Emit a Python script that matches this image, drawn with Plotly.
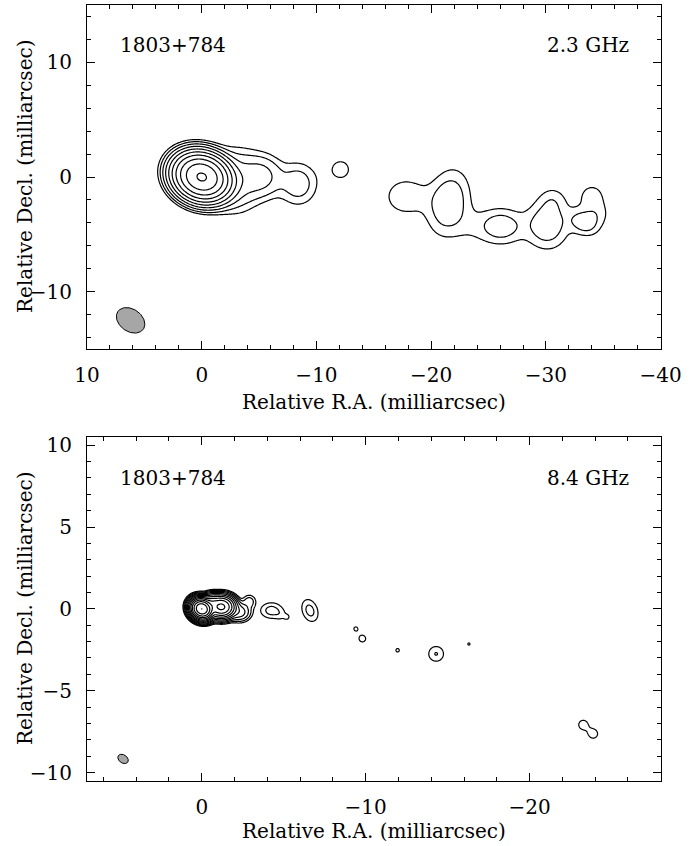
import numpy as np
import plotly.graph_objects as go

# ---------------------------------------------------------------
# 1803+784 VLBI images: Gaussian model components (mas) restored
# on a grid and contoured at levels doubling from the lowest one.
# Peak values are in units of the lowest contour level.
# ---------------------------------------------------------------

# 2.3 GHz components
s_ra   = [0.0, -3.0, -5.2, -8.4, -12.1, -17.8, -21.5, -23.3, -26.1, -30.1, -33.3, -30.6, -34.0, -34.5]
s_dec  = [0.0, -0.3, 0.05, -0.6, 0.65, -1.7, -2.2, -4.3, -4.3, -4.2, -4.0, -2.0, -1.7, -3.3]
s_peak = [550, 4.5, 5.0, 3.0, 1.25, 1.8, 3.4, 0.75, 3.0, 3.2, 2.8, 1.2, 1.4, 1.2]
s_maj  = [2.6, 3.8, 2.6, 2.8, 2.4, 3.2, 4.3, 3.0, 3.0, 3.2, 2.1, 2.0, 2.2, 1.8]
s_min  = [2.1, 3.0, 2.6, 2.5, 2.4, 2.75, 2.7, 3.0, 2.4, 2.9, 1.6, 2.0, 2.2, 1.8]
s_pa   = [70, 0, 90, 0, 0, 90, 168, 0, 90, 0, 60, 0, 0, 0]
s_levels = 10

# 8.4 GHz components
x_ra   = [0.0, -1.2, -0.6, -2.3, -2.9, -4.25, -4.85, -5.2, -6.6, -9.4, -9.8, -11.95, -14.3, -16.3, -23.27, -23.88]
x_dec  = [0.0, 0.12, 0.35, -0.2, 0.45, -0.1, -0.4, -0.5, -0.1, -1.22, -1.82, -2.53, -2.75, -2.15, -7.08, -7.63]
x_peak = [4096, 600, 150, 12, 3.0, 2.6, 0.8, 1.2, 2.5, 1.15, 1.4, 1.12, 2.05, 1.08, 1.5, 1.5]
x_maj  = [0.68, 0.85, 0.6, 0.85, 0.6, 1.1, 0.6, 0.3, 1.2, 0.5, 0.57, 0.5, 0.88, 0.4, 0.7, 0.7]
x_min  = [0.6, 0.7, 0.6, 0.7, 0.6, 0.8, 0.6, 0.3, 0.8, 0.5, 0.57, 0.5, 0.88, 0.4, 0.7, 0.7]
x_pa   = [60, 90, 0, 90, 0, 90, 0, 0, 20, 0, 0, 0, 0, 0, 0, 0]
x_levels = 13

# restoring beams: centre RA, Dec, FWHM major, minor (mas), position angle (deg)
beam_s = [6.2, -12.5, 2.7, 1.95, 55]
beam_x = [4.8, -9.17, 0.7, 0.5, 55]

# axis ranges
s_xrange, s_yrange = [10, -40], [-15, 15]
x_xrange, x_yrange = [7, -28], [-10.5, 10.5]

FONT = "DejaVu Serif"
W, H = 696, 846


def model_map(xs, ys, ra, dec, peak, maj, mnr, pa):
    X, Y = np.meshgrid(xs, ys)
    img = np.zeros_like(X)
    for r0, d0, p, a, b, t in zip(ra, dec, peak, maj, mnr, pa):
        th = np.radians(t)
        dx, dy = X - r0, Y - d0
        u = dx * np.sin(th) + dy * np.cos(th)
        v = dx * np.cos(th) - dy * np.sin(th)
        sa, sb = a / 2.3548, b / 2.3548
        img += p * np.exp(-0.5 * ((u / sa) ** 2 + (v / sb) ** 2))
    return img


def grid_axis(lo, hi, coarse, fine, centres, half):
    pts = set(np.round(np.arange(lo, hi + 1e-9, coarse), 4))
    for c in centres:
        pts.update(np.round(np.arange(c - half, c + half + 1e-9, fine), 4))
    return np.array(sorted(p for p in pts if lo <= p <= hi))


def contour_trace(xs, ys, img, nlev, width, xa, ya):
    z = np.log2(np.clip(img, 2.0 ** -3, None))
    z = np.round(z, 3)
    return go.Contour(
        x=xs, y=ys, z=z,
        contours=dict(start=0, end=nlev - 1, size=1, coloring="lines"),
        colorscale=[[0, "black"], [1, "black"]],
        line=dict(width=width, smoothing=1.0),
        showscale=False, hoverinfo="skip", xaxis=xa, yaxis=ya,
    )


def beam_trace(b, xa, ya):
    r0, d0, a, c, t = b
    th = np.radians(t)
    s = np.linspace(0, 2 * np.pi, 90)
    u, v = a / 2 * np.cos(s), c / 2 * np.sin(s)
    ra = r0 + u * np.sin(th) + v * np.cos(th)
    de = d0 + u * np.cos(th) - v * np.sin(th)
    return go.Scatter(x=ra, y=de, mode="lines", fill="toself",
                      fillcolor="#a6a6a6", line=dict(color="black", width=1),
                      hoverinfo="skip", showlegend=False, xaxis=xa, yaxis=ya)


# 2.3 GHz grid (uniform)
sx = np.round(np.arange(-40, 10.0001, 0.1), 3)
sy = np.round(np.arange(-15, 15.0001, 0.1), 3)
s_img = model_map(sx, sy, s_ra, s_dec, s_peak, s_maj, s_min, s_pa)

# 8.4 GHz grid (refined around components)
xx = grid_axis(-28, 7, 0.25, 0.025, x_ra, 1.2)
xy = grid_axis(-10.5, 10.5, 0.25, 0.025, x_dec, 1.2)
x_img = model_map(xx, xy, x_ra, x_dec, x_peak, x_maj, x_min, x_pa)

fig = go.Figure()
fig.add_trace(contour_trace(sx, sy, s_img, s_levels, 1.2, "x", "y"))
fig.add_trace(beam_trace(beam_s, "x", "y"))
fig.add_trace(contour_trace(xx, xy, x_img, x_levels, 1.2, "x2", "y2"))
fig.add_trace(beam_trace(beam_x, "x2", "y2"))

L, R = 87 / W, 660.7 / W
top_dom = [1 - 349 / H, 1 - 5 / H]
bot_dom = [1 - 780.7 / H, 1 - 437 / H]

axis_common = dict(
    showgrid=False, zeroline=False, showline=True, linecolor="black", linewidth=1,
    mirror="allticks", ticks="inside", ticklen=8, tickcolor="black", tickwidth=1,
    tickfont=dict(family=FONT, size=20, color="black"), automargin=False,
)
minor2 = dict(dtick=2, ticklen=4, ticks="inside", tickcolor="black")
minor1 = dict(dtick=1, ticklen=4, ticks="inside", tickcolor="black")

fig.update_layout(
    width=W, height=H, margin=dict(l=0, r=0, t=0, b=0),
    paper_bgcolor="white", plot_bgcolor="white", showlegend=False,
    xaxis=dict(domain=[L, R], range=s_xrange, anchor="y", tick0=0, dtick=10,
               minor=minor2, ticklabelstandoff=8, **axis_common),
    yaxis=dict(domain=top_dom, range=s_yrange, anchor="x", tick0=0, dtick=10,
               minor=minor2, ticklabelstandoff=10, **axis_common),
    xaxis2=dict(domain=[L, R], range=x_xrange, anchor="y2", tick0=0, dtick=10,
                minor=minor2, ticklabelstandoff=8, **axis_common),
    yaxis2=dict(domain=bot_dom, range=x_yrange, anchor="x2", tick0=0, dtick=5,
                minor=minor1, ticklabelstandoff=10, **axis_common),
)


def add_text(txt, px, py, xanchor="center", angle=0):
    fig.add_annotation(text=txt, x=px / W, y=1 - py / H, xref="paper", yref="paper",
                       xanchor=xanchor, yanchor="middle", showarrow=False, textangle=angle,
                       font=dict(family=FONT, size=20, color="black"))


add_text("1803+784", 118, 45, "left")
add_text("2.3 GHz", 631, 45, "right")
add_text("1803+784", 118, 478, "left")
add_text("8.4 GHz", 631, 478, "right")
add_text("Relative R.A. (milliarcsec)", 374, 402)
add_text("Relative R.A. (milliarcsec)", 374, 831)
add_text("Relative Decl. (milliarcsec)", 25, 177, angle=-90)
add_text("Relative Decl. (milliarcsec)", 25, 609, angle=-90)

fig.write_html("out.html")
